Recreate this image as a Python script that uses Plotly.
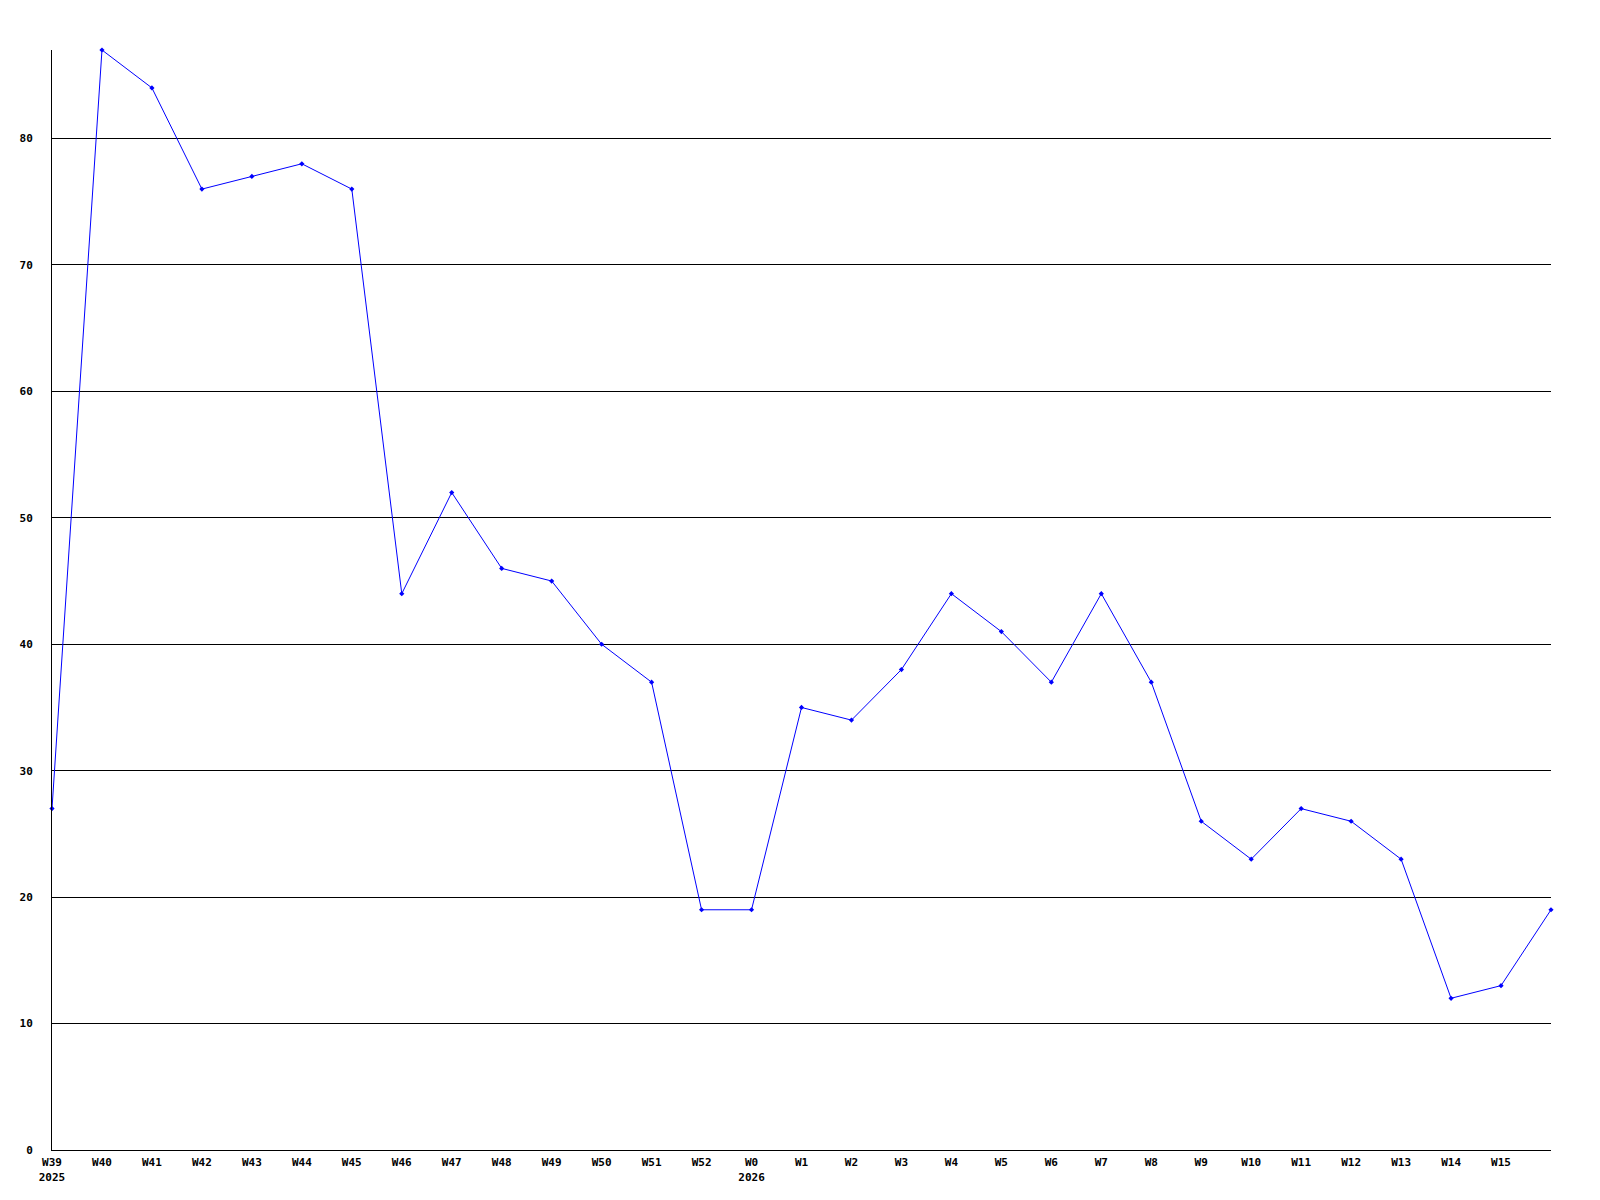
import plotly.graph_objects as go

weeks = ["W39", "W40", "W41", "W42", "W43", "W44", "W45", "W46", "W47", "W48",
         "W49", "W50", "W51", "W52", "W0", "W1", "W2", "W3", "W4", "W5",
         "W6", "W7", "W8", "W9", "W10", "W11", "W12", "W13", "W14", "W15", "W16"]
values = [27, 87, 84, 76, 77, 78, 76, 44, 52, 46,
          45, 40, 37, 19, 19, 35, 34, 38, 44, 41,
          37, 44, 37, 26, 23, 27, 26, 23, 12, 13, 19]
year_marks = {"W39": "2025", "W0": "2026"}
y_ticks = [0, 10, 20, 30, 40, 50, 60, 70, 80]

x = list(range(len(weeks)))
tick_vals = x[:-1]
tick_text = [w + ("<br>" + year_marks[w] if w in year_marks else "") for w in weeks[:-1]]

fig = go.Figure()
fig.add_trace(go.Scatter(
    x=x, y=values, mode="lines+markers",
    line=dict(color="#0000ff", width=1),
    marker=dict(symbol="diamond", size=4, color="#0000ff"),
    cliponaxis=False, hoverinfo="skip",
))

font = dict(family="DejaVu Sans Mono", size=11, color="#000000", weight="bold")

fig.update_layout(
    width=1600, height=1200,
    margin=dict(l=42, r=57, t=42, b=58),
    paper_bgcolor="white", plot_bgcolor="white",
    showlegend=False,
    font=font,
    xaxis=dict(
        range=[0, len(weeks) - 1],
        tickmode="array", tickvals=tick_vals, ticktext=tick_text,
        showgrid=False, zeroline=False,
        showline=True, linecolor="black", linewidth=1,
        ticks="", tickfont=font, ticklabelstandoff=2,
    ),
    yaxis=dict(
        range=[0, 87],
        tickmode="array", tickvals=y_ticks,
        showgrid=True, gridcolor="black", gridwidth=1,
        zeroline=False,
        showline=True, linecolor="black", linewidth=1,
        ticks="", tickfont=font, ticklabelstandoff=16,
    ),
)

fig.write_html("out.html")
